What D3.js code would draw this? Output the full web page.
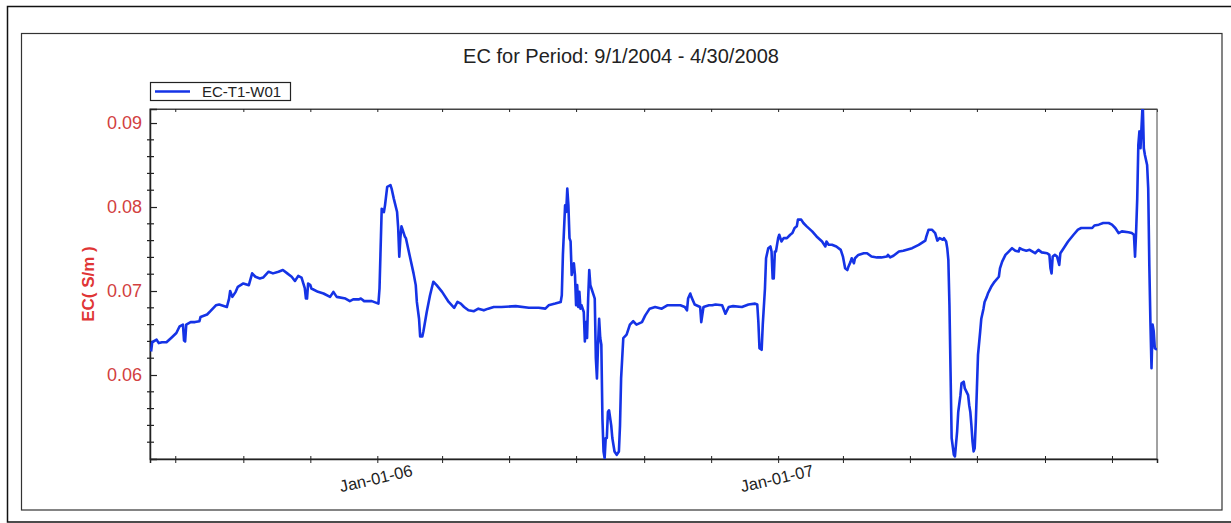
<!DOCTYPE html>
<html>
<head>
<meta charset="utf-8">
<script src="https://cdn.jsdelivr.net/npm/d3@7"></script>
<style>
  body { margin: 0; background: #fff; }
  svg { display: block; font-family: Arial, "Liberation Sans", sans-serif; }
</style>
</head>
<body>
<svg id="ec_chart"></svg>
<script>
// chart text
const chartTitle = "EC for Period: 9/1/2004 - 4/30/2008";
const seriesName = "EC-T1-W01";
const yLabel = "EC( S/m )";

// readings (date, EC in S/m)
const dates = [
  "2005-06-09","2005-06-10","2005-06-14","2005-06-16","2005-06-19","2005-06-23","2005-06-28","2005-07-02",
  "2005-07-05","2005-07-08","2005-07-09","2005-07-10","2005-07-11","2005-07-15","2005-07-19","2005-07-23",
  "2005-07-24","2005-07-30","2005-08-02","2005-08-07","2005-08-10","2005-08-17","2005-08-19","2005-08-20",
  "2005-08-22","2005-08-25","2005-08-27","2005-09-01","2005-09-06","2005-09-09","2005-09-12","2005-09-16",
  "2005-09-19","2005-09-24","2005-09-28","2005-10-03","2005-10-07","2005-10-11","2005-10-15","2005-10-18",
  "2005-10-21","2005-10-24","2005-10-27","2005-10-28","2005-10-29","2005-10-30","2005-11-01","2005-11-02",
  "2005-11-08","2005-11-13","2005-11-19","2005-11-22","2005-11-25","2005-12-03","2005-12-07","2005-12-10",
  "2005-12-15","2005-12-17","2005-12-20","2005-12-27",
  "2006-01-02","2006-01-03","2006-01-05","2006-01-07","2006-01-08","2006-01-10","2006-01-13","2006-01-14",
  "2006-01-16","2006-01-19","2006-01-20","2006-01-21","2006-01-22","2006-01-23","2006-01-24","2006-01-26",
  "2006-01-27","2006-01-31","2006-02-03","2006-02-05","2006-02-06","2006-02-08","2006-02-09","2006-02-11",
  "2006-02-12","2006-02-15","2006-02-18","2006-02-21","2006-02-24","2006-03-01","2006-03-07","2006-03-12",
  "2006-03-15","2006-03-18","2006-03-21","2006-03-25","2006-03-30","2006-04-03","2006-04-08","2006-04-12",
  "2006-04-17","2006-04-24","2006-05-07","2006-05-19","2006-05-28","2006-06-03","2006-06-06","2006-06-12",
  "2006-06-17","2006-06-18","2006-06-19","2006-06-21","2006-06-22","2006-06-23","2006-06-24","2006-06-25",
  "2006-06-26","2006-06-27","2006-06-29","2006-06-30","2006-07-01","2006-07-02","2006-07-03","2006-07-04",
  "2006-07-05","2006-07-06","2006-07-08","2006-07-09","2006-07-10","2006-07-11","2006-07-12","2006-07-13",
  "2006-07-14","2006-07-15","2006-07-17","2006-07-18","2006-07-19","2006-07-20","2006-07-21","2006-07-22",
  "2006-07-23","2006-07-24","2006-07-25","2006-07-26","2006-07-27","2006-07-28","2006-07-29","2006-07-30",
  "2006-07-31","2006-08-02","2006-08-03","2006-08-05","2006-08-07","2006-08-09","2006-08-10","2006-08-11",
  "2006-08-12","2006-08-13","2006-08-16","2006-08-19","2006-08-22","2006-08-25","2006-08-30","2006-09-02",
  "2006-09-06","2006-09-11","2006-09-17","2006-09-22","2006-09-26","2006-10-04","2006-10-08","2006-10-10",
  "2006-10-11","2006-10-13","2006-10-14","2006-10-17","2006-10-22","2006-10-23","2006-10-25","2006-10-30",
  "2006-11-02","2006-11-05","2006-11-11","2006-11-14","2006-11-17","2006-11-21","2006-11-29","2006-12-05",
  "2006-12-11","2006-12-13","2006-12-14","2006-12-15","2006-12-17","2006-12-18","2006-12-20","2006-12-21",
  "2006-12-23","2006-12-25","2006-12-26","2006-12-27","2006-12-28","2006-12-29","2006-12-30",
  "2007-01-01","2007-01-02","2007-01-04","2007-01-06","2007-01-09","2007-01-12","2007-01-14","2007-01-16",
  "2007-01-18","2007-01-19","2007-01-22","2007-01-24","2007-01-27","2007-02-01","2007-02-05","2007-02-10",
  "2007-02-13","2007-02-14","2007-02-16","2007-02-19","2007-02-23","2007-02-27","2007-03-01","2007-03-03",
  "2007-03-05","2007-03-06","2007-03-08","2007-03-09","2007-03-11","2007-03-12","2007-03-15","2007-03-20",
  "2007-03-23","2007-03-27","2007-04-01","2007-04-05","2007-04-10","2007-04-11","2007-04-13","2007-04-16",
  "2007-04-21","2007-04-25","2007-05-03","2007-05-09","2007-05-15","2007-05-16","2007-05-18","2007-05-21",
  "2007-05-24","2007-05-26","2007-05-28","2007-05-31","2007-06-01","2007-06-03","2007-06-04","2007-06-05",
  "2007-06-06","2007-06-07","2007-06-08","2007-06-10","2007-06-11","2007-06-13","2007-06-14","2007-06-16",
  "2007-06-17","2007-06-19","2007-06-20","2007-06-23","2007-06-24","2007-06-25","2007-06-26","2007-06-27",
  "2007-06-28","2007-06-29","2007-06-30","2007-07-01","2007-07-02","2007-07-04","2007-07-05","2007-07-07",
  "2007-07-08","2007-07-10","2007-07-11","2007-07-14","2007-07-17","2007-07-21","2007-07-22","2007-07-24",
  "2007-07-27","2007-07-30","2007-08-02","2007-08-05","2007-08-08","2007-08-09","2007-08-12","2007-08-15",
  "2007-08-18","2007-08-23","2007-08-26","2007-08-29","2007-09-03","2007-09-05","2007-09-06","2007-09-07",
  "2007-09-08","2007-09-10","2007-09-12","2007-09-14","2007-09-15","2007-09-18","2007-09-22","2007-09-27",
  "2007-10-01","2007-10-04","2007-10-10","2007-10-14","2007-10-16","2007-10-20","2007-10-24","2007-10-29",
  "2007-11-01","2007-11-04","2007-11-07","2007-11-10","2007-11-16","2007-11-19","2007-11-21","2007-11-22",
  "2007-11-23","2007-11-24","2007-11-25","2007-11-26","2007-11-27","2007-11-28","2007-11-29","2007-11-30",
  "2007-12-01","2007-12-03","2007-12-04","2007-12-05","2007-12-06","2007-12-07","2007-12-08","2007-12-09",
  "2007-12-10","2007-12-12"
];
const ecValues = [
  0.0628,0.0639,0.0642,0.0638,0.0639,0.0639,0.0645,0.0650,
  0.0658,0.0660,0.0641,0.0640,0.0660,0.0663,0.0663,0.0664,
  0.0669,0.0672,0.0676,0.0683,0.0684,0.0681,0.0691,0.0700,
  0.0693,0.0699,0.0705,0.0709,0.0707,0.0721,0.0717,0.0715,
  0.0716,0.0723,0.0721,0.0723,0.0725,0.0721,0.0717,0.0712,
  0.0718,0.0716,0.0703,0.0691,0.0691,0.0709,0.0707,0.0703,
  0.0699,0.0697,0.0693,0.0699,0.0693,0.0691,0.0688,0.0690,
  0.0690,0.0691,0.0688,0.0688,
  0.0685,0.0703,0.0798,0.0794,0.0802,0.0824,0.0826,0.0822,
  0.0810,0.0794,0.0775,0.0741,0.0763,0.0777,0.0773,0.0765,
  0.0763,0.0739,0.0721,0.0707,0.0687,0.0667,0.0646,0.0646,
  0.0652,0.0675,0.0695,0.0711,0.0707,0.0699,0.0687,0.0680,
  0.0687,0.0685,0.0681,0.0677,0.0676,0.0679,0.0677,0.0679,
  0.0681,0.0681,0.0682,0.0680,0.0680,0.0679,0.0683,0.0685,
  0.0687,0.0695,0.0743,0.0802,0.0794,0.0822,0.0802,0.0763,
  0.0759,0.0719,0.0733,0.0719,0.0683,0.0707,0.0681,0.0699,
  0.0679,0.0683,0.0675,0.0640,0.0663,0.0644,0.0691,0.0725,
  0.0707,0.0703,0.0695,0.0691,0.0620,0.0596,0.0636,0.0667,
  0.0644,0.0636,0.0548,0.0509,0.0501,0.0525,0.0525,0.0556,
  0.0558,0.0540,0.0525,0.0509,0.0505,0.0509,0.0540,0.0596,
  0.0620,0.0644,0.0648,0.0660,0.0664,0.0660,0.0663,0.0671,
  0.0679,0.0681,0.0679,0.0683,0.0683,0.0683,0.0681,0.0677,
  0.0691,0.0697,0.0693,0.0684,0.0681,0.0663,0.0681,0.0683,
  0.0683,0.0684,0.0683,0.0673,0.0681,0.0682,0.0681,0.0684,
  0.0685,0.0684,0.0663,0.0632,0.0630,0.0660,0.0703,0.0739,
  0.0751,0.0753,0.0747,0.0715,0.0715,0.0747,0.0747,
  0.0763,0.0767,0.0759,0.0763,0.0763,0.0767,0.0769,0.0775,
  0.0777,0.0785,0.0785,0.0781,0.0777,0.0771,0.0765,0.0759,
  0.0753,0.0759,0.0755,0.0755,0.0753,0.0749,0.0741,0.0727,
  0.0725,0.0729,0.0735,0.0739,0.0733,0.0739,0.0743,0.0745,
  0.0745,0.0741,0.0740,0.0740,0.0741,0.0743,0.0740,0.0742,
  0.0747,0.0748,0.0751,0.0755,0.0760,0.0765,0.0773,0.0773,
  0.0769,0.0760,0.0763,0.0761,0.0763,0.0759,0.0751,0.0737,
  0.0683,0.0604,0.0525,0.0505,0.0503,0.0533,0.0556,0.0576,
  0.0590,0.0592,0.0584,0.0576,0.0564,0.0556,0.0540,0.0521,
  0.0509,0.0513,0.0544,0.0584,0.0624,0.0652,0.0667,0.0679,
  0.0687,0.0693,0.0697,0.0705,0.0711,0.0717,0.0727,0.0735,
  0.0743,0.0747,0.0751,0.0748,0.0747,0.0751,0.0749,0.0748,
  0.0749,0.0745,0.0749,0.0746,0.0745,0.0743,0.0727,0.0721,
  0.0741,0.0743,0.0741,0.0731,0.0745,0.0751,0.0759,0.0767,
  0.0773,0.0775,0.0775,0.0775,0.0778,0.0779,0.0781,0.0781,
  0.0779,0.0775,0.0769,0.0771,0.0770,0.0769,0.0767,0.0741,
  0.0771,0.0810,0.0874,0.0890,0.0870,0.0898,0.0925,0.0870,
  0.0862,0.0850,0.0822,0.0731,0.0663,0.0608,0.0660,0.0652,
  0.0632,0.0630
];

// axis range and ticks
const xStart = "2005-06-08", xEnd = "2007-12-12";
const xTicks = ["2005-07-01","2005-09-01","2005-11-01","2006-01-01","2006-03-01","2006-05-01","2006-07-01",
  "2006-09-01","2006-11-01","2007-01-01","2007-03-01","2007-05-01","2007-07-01","2007-09-01","2007-11-01"];
const xLabelled = ["2006-01-01","2007-01-01"];
const yMin = 0.05, yMax = 0.09167;
const yMajor = [0.06, 0.07, 0.08, 0.09];

const parse = d3.utcParse("%Y-%m-%d");
const data = dates.map((d, i) => ({date: parse(d), ec: ecValues[i]}));

const W = 1231, H = 523;
const margin = {top: 109, right: 74, bottom: 64, left: 150},
    width = W - margin.left - margin.right,
    height = H - margin.top - margin.bottom;

const svg = d3.select("#ec_chart").attr("width", W).attr("height", H);

// outer and inner frames
svg.append("rect").attr("x", 7.5).attr("y", 6.5).attr("width", 1230).attr("height", 515.5)
    .attr("fill", "none").attr("stroke", "#111").attr("stroke-width", 1.5);
svg.append("rect").attr("x", 21.5).attr("y", 33.5).attr("width", 1200.5).attr("height", 476.5)
    .attr("fill", "none").attr("stroke", "#333").attr("stroke-width", 1.2);

svg.append("text").attr("x", 621).attr("y", 63).attr("text-anchor", "middle")
    .attr("font-size", 20).attr("fill", "#222").text(chartTitle);

const g = svg.append("g").attr("transform", `translate(${margin.left}, ${margin.top})`);

const x = d3.scaleUtc().domain([parse(xStart), parse(xEnd)]).range([0, width]);
const y = d3.scaleLinear().domain([yMin, yMax]).range([height, 0]);

// plot frame
g.append("rect").attr("width", width).attr("height", height)
    .attr("fill", "none").attr("stroke", "#444").attr("stroke-width", 1);

// x ticks top and bottom
const tickDates = xTicks.map(parse);
g.append("g").attr("transform", `translate(0, ${height})`)
    .call(d3.axisBottom(x).tickValues(tickDates).tickSize(4).tickFormat(""))
    .call(a => a.select(".domain").attr("stroke", "#222").attr("stroke-width", 1.5))
    .call(a => a.selectAll(".tick line").attr("y1", -3).attr("stroke", "#222"));
g.append("g")
    .call(d3.axisTop(x).tickValues(tickDates).tickSize(-3).tickFormat(""))
    .call(a => a.select(".domain").attr("stroke", "#444"))
    .call(a => a.selectAll(".tick line").attr("stroke", "#222"));

const fmt = d3.utcFormat("%b-%d-%y");
g.selectAll(".xlab").data(xLabelled.map(parse)).enter().append("text")
    .attr("class", "xlab")
    .attr("transform", d => `translate(${x(d)}, ${height + 25}) rotate(-13)`)
    .attr("text-anchor", "middle").attr("font-size", 16.5).attr("fill", "#222")
    .text(d => fmt(d));

// y axis: major ticks inside, minor ticks crossing
const minor = d3.range(0.052, yMax, 0.002).filter(v => !yMajor.some(m => Math.abs(m - v) < 1e-6));
g.append("g").selectAll("line").data(minor).enter().append("line")
    .attr("x1", -3).attr("x2", 4).attr("y1", d => y(d)).attr("y2", d => y(d))
    .attr("stroke", "#222").attr("stroke-width", 1.2);
g.append("g")
    .call(d3.axisLeft(y).tickValues(yMajor).tickSize(-7).tickPadding(8).tickFormat(d3.format(".2f")))
    .call(a => a.select(".domain").attr("stroke", "#222").attr("stroke-width", 1.5))
    .call(a => a.selectAll(".tick line").attr("stroke", "#222").attr("stroke-width", 1.2))
    .call(a => a.selectAll(".tick text").attr("font-size", 18).attr("fill", "#d24040")
        .attr("font-family", "Arial, 'Liberation Sans', sans-serif"));

svg.append("text")
    .attr("transform", `translate(94, ${margin.top + height / 2}) rotate(-90)`)
    .attr("text-anchor", "middle").attr("font-size", 17).attr("font-weight", "bold")
    .attr("fill", "#e03535").text(yLabel);

// series line
g.append("clipPath").attr("id", "plotclip").append("rect").attr("width", width).attr("height", height);
const line = d3.line().x(d => x(d.date)).y(d => y(d.ec));
g.append("path").datum(data)
    .attr("clip-path", "url(#plotclip)")
    .attr("fill", "none").attr("stroke", "#1533e6").attr("stroke-width", 2.6)
    .attr("stroke-linejoin", "round")
    .attr("d", line);

// legend
const leg = svg.append("g").attr("transform", "translate(150, 82)");
leg.append("rect").attr("x", 0.5).attr("y", 0.5).attr("width", 140).attr("height", 18)
    .attr("fill", "#fff").attr("stroke", "#222").attr("stroke-width", 1.2);
leg.append("line").attr("x1", 5).attr("x2", 40).attr("y1", 9.5).attr("y2", 9.5)
    .attr("stroke", "#1533e6").attr("stroke-width", 2.5);
leg.append("text").attr("x", 52).attr("y", 15).attr("font-size", 15).attr("fill", "#222").text(seriesName);
</script>
</body>
</html>
